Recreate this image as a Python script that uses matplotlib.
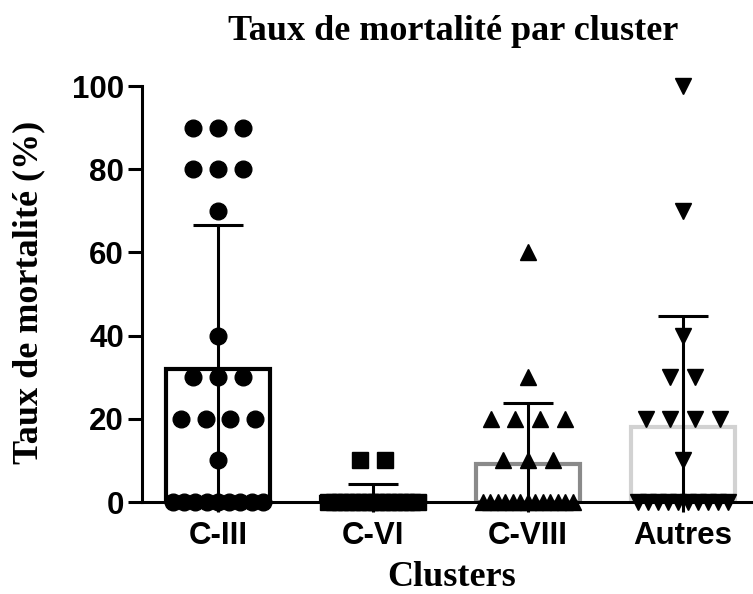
import numpy as np
import matplotlib
matplotlib.use("Agg")
import matplotlib.pyplot as plt

clusters = ["C-III", "C-VI", "C-VIII", "Autres"]
c_iii = [90, 90, 90, 80, 80, 80, 70, 40, 30, 30, 30, 20, 20, 20, 20, 10,
         0, 0, 0, 0, 0, 0, 0, 0, 0]
c_vi = [10, 10, 0, 0, 0, 0, 0, 0, 0, 0, 0, 0, 0, 0, 0, 0, 0, 0]
c_viii = [60, 30, 20, 20, 20, 20, 10, 10, 10,
          0, 0, 0, 0, 0, 0, 0, 0, 0, 0, 0, 0, 0]
autres = [100, 70, 40, 30, 30, 20, 20, 20, 20, 10,
          0, 0, 0, 0, 0, 0, 0, 0, 0, 0]
yticks = [0, 20, 40, 60, 80, 100]

groups = [c_iii, c_vi, c_viii, autres]
bar_colors = ["black", "black", "#8a8a8a", "#d2d2d2"]
markers = ["o", "s", "^", "v"]

sans = "Liberation Sans"
serif = "Liberation Serif"


def spread(values, step=0.16, max_width=0.58):
    # spread equal values side by side, like a scatter dot plot
    values = np.asarray(values, dtype=float)
    offsets = np.zeros(len(values))
    for v in np.unique(values):
        idx = np.where(values == v)[0]
        k = len(idx)
        if k > 1:
            gap = min(step, max_width / (k - 1))
            offsets[idx] = (np.arange(k) - (k - 1) / 2) * gap
    return offsets


fig = plt.figure(figsize=(7.53, 5.94), dpi=100)
ax = fig.add_axes([142 / 753, 92 / 594, (751 - 142) / 753, (502 - 86) / 594])

x = np.arange(len(clusters))
means = [np.mean(g) for g in groups]
sds = [np.std(g, ddof=1) for g in groups]

ax.bar(x, means, width=0.67, fill=False, edgecolor=bar_colors, linewidth=3, zorder=2)
ax.errorbar(x, means, yerr=sds, fmt="none", ecolor="black", elinewidth=2.2,
            capsize=18, capthick=2.2, zorder=3)

for i, g in enumerate(groups):
    ax.plot(i + spread(g), g, linestyle="none", marker=markers[i], color="black",
            markersize=12, clip_on=False, zorder=4)

ax.set_xlim(-0.49, 3.44)
ax.set_ylim(0, 100)
ax.set_yticks(yticks)
ax.set_xticks(x)
ax.set_xticklabels(clusters)

for side in ["top", "right"]:
    ax.spines[side].set_visible(False)
for side in ["left", "bottom"]:
    ax.spines[side].set_linewidth(2.2)

ax.tick_params(axis="y", length=10, width=2.2, pad=3)
ax.tick_params(axis="x", length=7, width=2.2, pad=7)
for lab in ax.get_xticklabels() + ax.get_yticklabels():
    lab.set_fontfamily(sans)
    lab.set_fontweight("bold")
    lab.set_fontsize(22.5)

fig.text(453 / 753, 1 - 31 / 594, "Taux de mortalité par cluster", family=serif,
         weight="bold", fontsize=26, ha="center", va="center")
fig.text(29 / 753, 1 - 292 / 594, "Taux de mortalité (%)", family=serif,
         weight="bold", fontsize=26, ha="center", va="center", rotation=90)
fig.text(452 / 753, 1 - 577 / 594, "Clusters", family=serif,
         weight="bold", fontsize=26, ha="center", va="center")

fig.savefig("out.png", dpi=100)
